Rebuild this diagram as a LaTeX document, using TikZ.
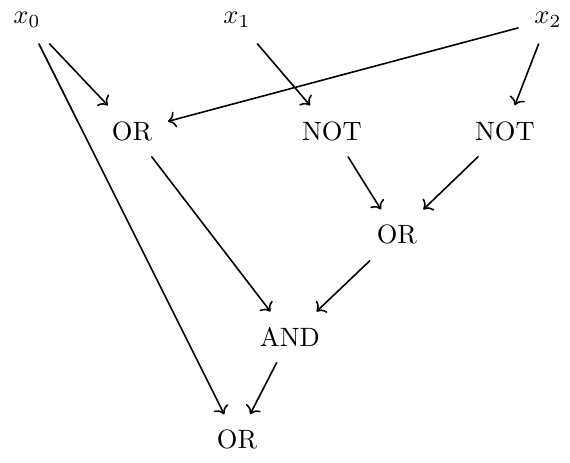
\documentclass[tikz,border=0pt]{standalone}
\usepackage{tikz}
\usetikzlibrary{arrows.meta}

\begin{document}
\begin{tikzpicture}[x=1cm,y=1cm]
    \tikzset{gate/.style={inner sep=5.8pt},
             wire/.style={->,semithick}}
    \useasboundingbox (0,0) rectangle (7.56,-6.13);
    % inputs
    \node[gate] (x0) at (0.358,-0.265) {$x_0$};
    \node[gate] (x1) at (3.143,-0.265) {$x_1$};
    \node[gate] (x2) at (7.267,-0.265) {$x_2$};
    % gates
    \node[gate] (or1) at (1.750,-1.737) {OR};
    \node[gate] (not1) at (4.402,-1.737) {NOT};
    \node[gate] (not2) at (6.696,-1.737) {NOT};
    \node[gate] (or2) at (5.264,-3.116) {OR};
    \node[gate] (and) at (3.845,-4.469) {AND};
    \node[gate] (out) at (3.143,-5.834) {OR};
    % wires
    \draw[wire] (x0) -- (or1);
    \draw[wire] (x0) -- (out);
    \draw[wire] (x1) -- (not1);
    \draw[wire] (x2) -- (or1);
    \draw[wire] (x2) -- (not2);
    \draw[wire] (or1) -- (and);
    \draw[wire] (not1) -- (or2);
    \draw[wire] (not2) -- (or2);
    \draw[wire] (or2) -- (and);
    \draw[wire] (and) -- (out);
\end{tikzpicture}
\end{document}
